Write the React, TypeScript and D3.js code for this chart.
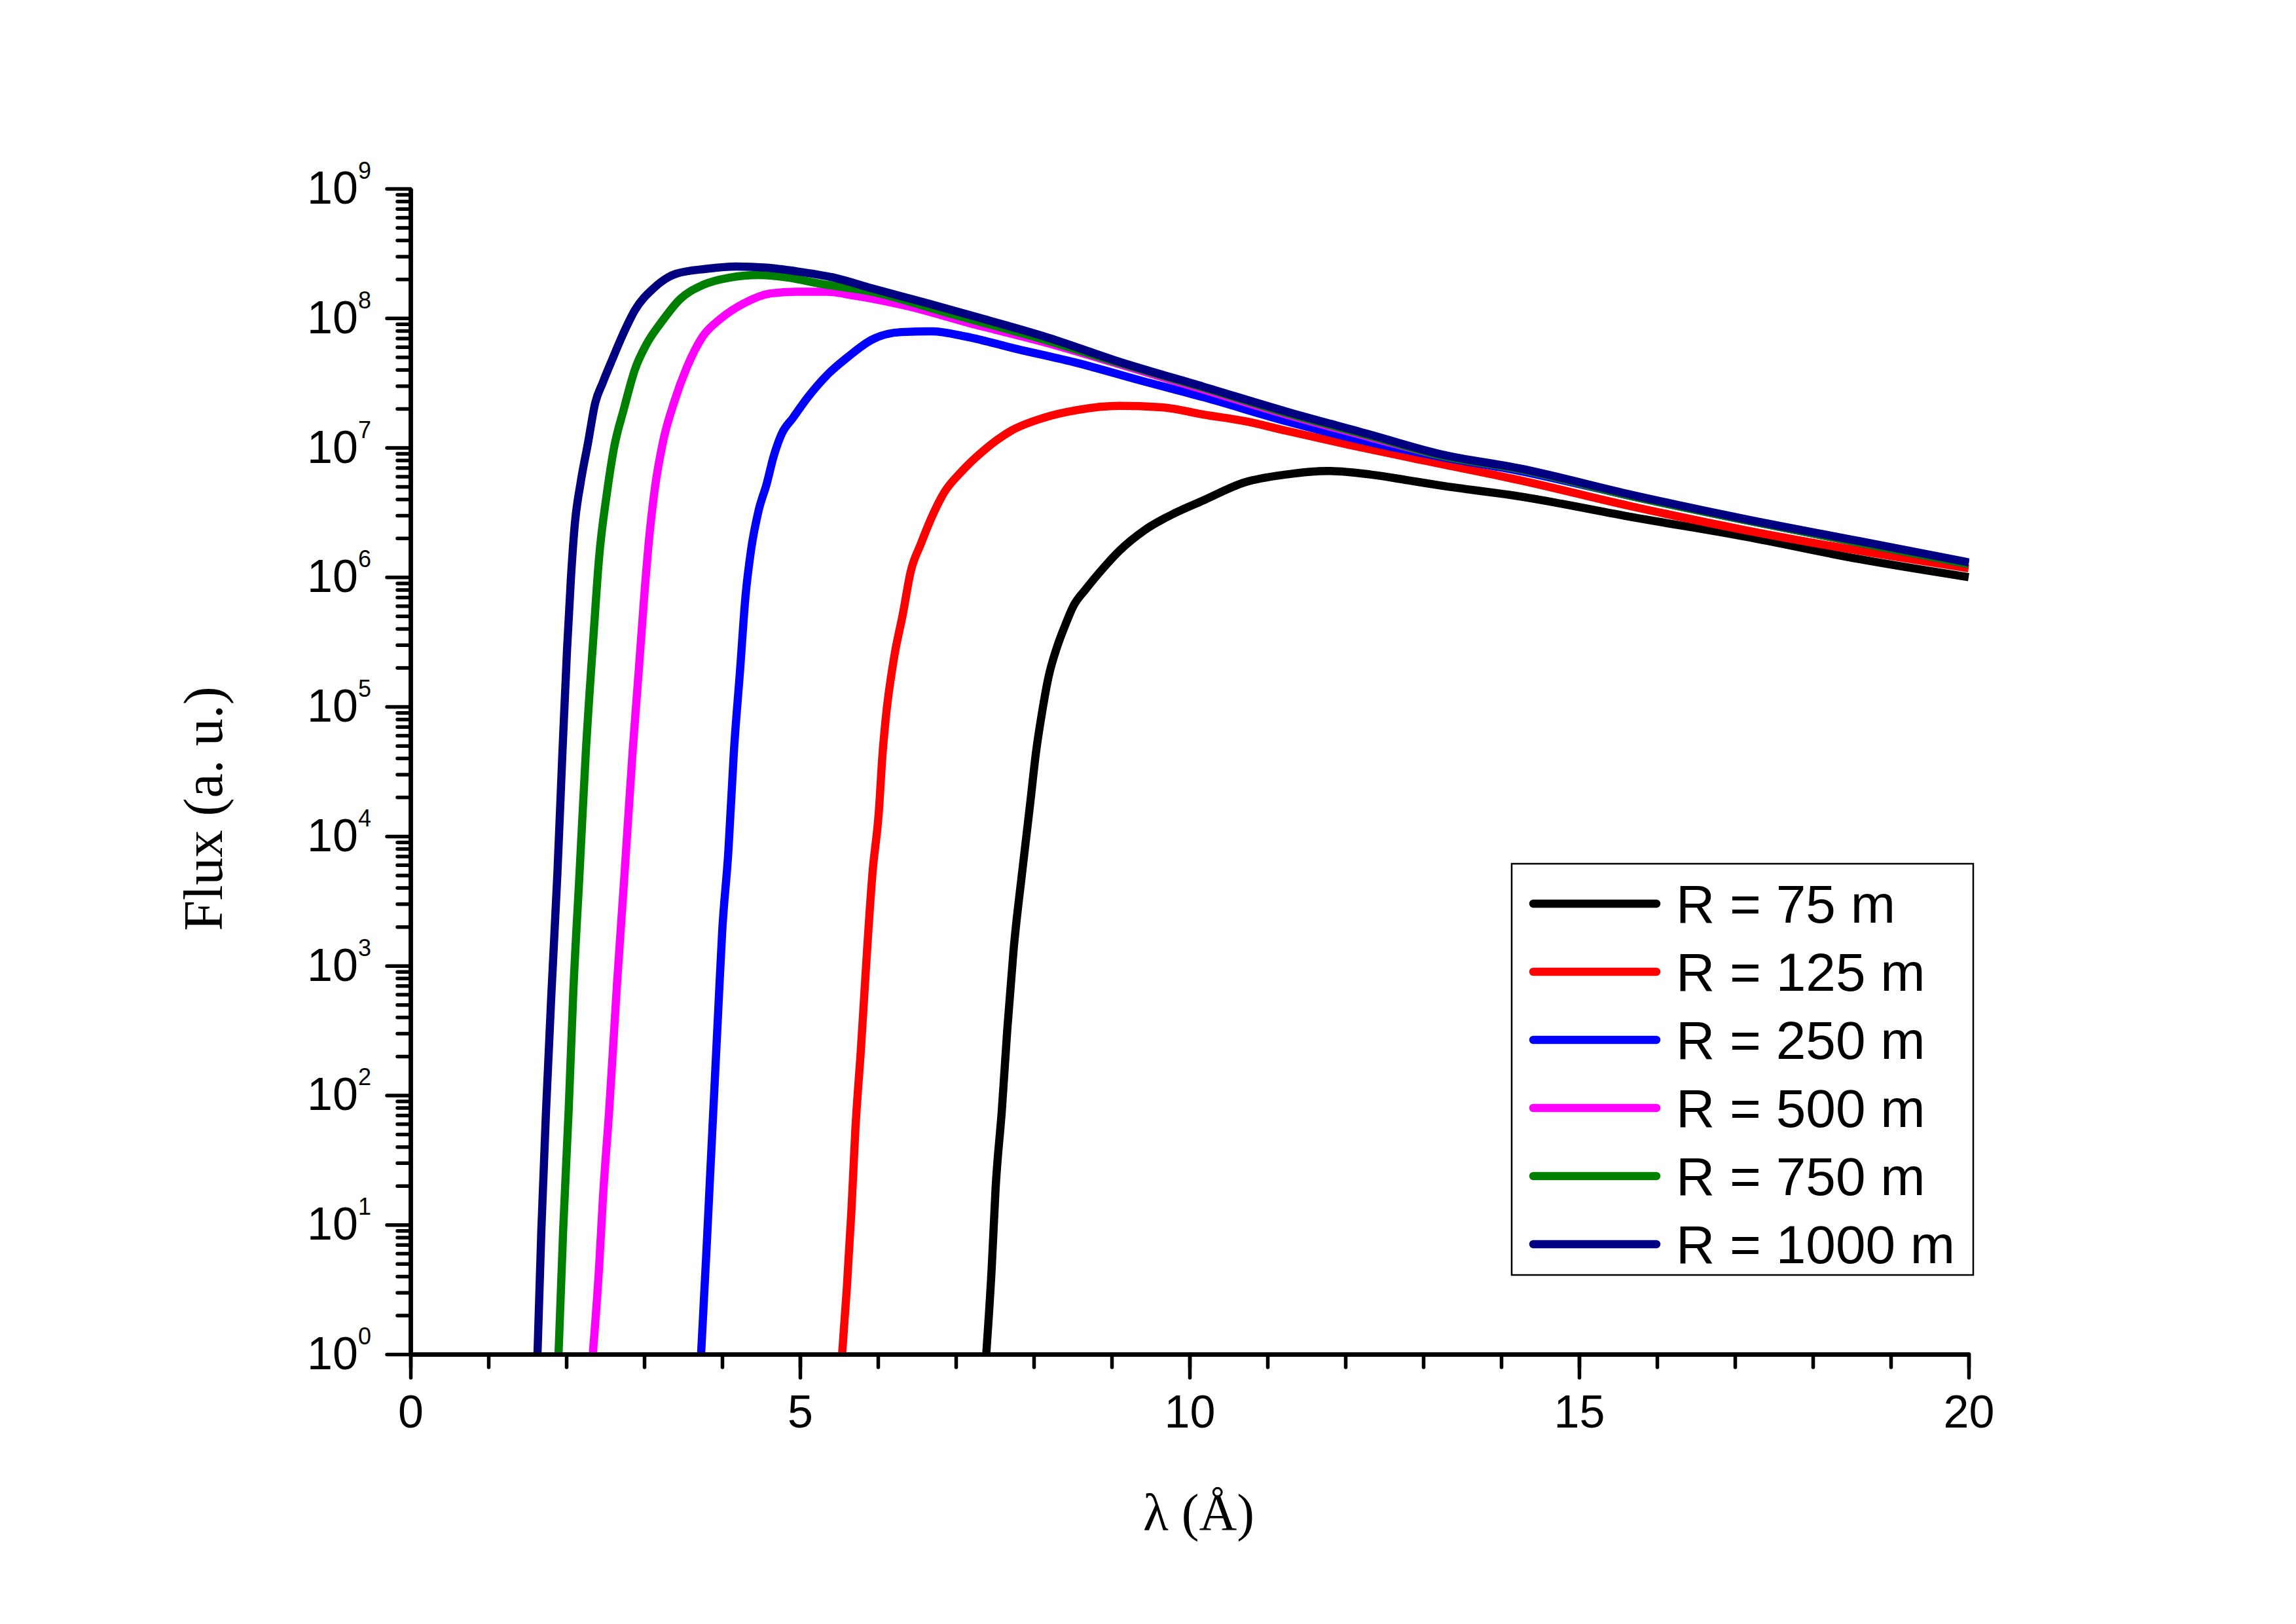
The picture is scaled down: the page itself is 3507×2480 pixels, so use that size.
import React, { useEffect, useRef } from 'react';
import * as d3 from 'd3';

const W = 3507;
const H = 2480;

// series: [lambda (Å), flux (a. u.)]
const r75: [number, number][] = [
  [7.39, 1], [7.46, 4.6], [7.51, 19], [7.59, 76], [7.66, 320], [7.74, 1.3e3], [7.85, 5.2e3],
  [7.95, 1.7e4], [8.03, 4.5e4], [8.11, 9.3e4], [8.19, 1.7e5], [8.3, 2.9e5], [8.4, 4.2e5],
  [8.51, 6.0e5], [8.67, 8.1e5], [8.89, 1.17e6], [9.1, 1.6e6], [9.42, 2.3e6], [9.8, 3.1e6],
  [10.17, 3.9e6], [10.71, 5.4e6], [11.24, 6.2e6], [11.78, 6.6e6], [12.32, 6.2e6], [12.8, 5.6e6],
  [13.22, 5.1e6], [14.24, 4.2e6], [15.69, 2.9e6], [17.14, 2.05e6], [18.59, 1.38e6], [20, 1.0e6],
];
const r125: [number, number][] = [
  [5.54, 1], [5.6, 3.2], [5.66, 13], [5.71, 54], [5.78, 220], [5.86, 1.3e3], [5.93, 5.2e3],
  [6.01, 1.5e4], [6.06, 4.4e4], [6.1, 8.1e4], [6.21, 2.45e5], [6.32, 5.2e5], [6.42, 1.1e6],
  [6.55, 1.8e6], [6.69, 2.9e6], [6.85, 4.5e6], [7.07, 6.5e6], [7.34, 9.3e6], [7.71, 1.35e7],
  [8.13, 1.7e7], [8.56, 1.95e7], [9.1, 2.1e7], [9.64, 2.05e7], [10.18, 1.8e7], [10.71, 1.6e7],
  [11.24, 1.35e7], [12.05, 1.05e7], [12.86, 8.3e6], [14.24, 5.6e6], [15.69, 3.5e6],
  [17.14, 2.3e6], [18.59, 1.6e6], [20, 1.17e6],
];
const r250: [number, number][] = [
  [3.73, 1], [3.8, 6.5], [3.85, 27], [3.9, 110], [3.95, 450], [4.0, 1.8e3], [4.08, 7.6e3],
  [4.15, 4.4e4], [4.23, 1.9e5], [4.3, 7.1e5], [4.37, 1.6e6], [4.47, 3.3e6], [4.57, 5.2e6],
  [4.66, 8.5e6], [4.76, 1.26e7], [4.91, 1.7e7], [5.1, 2.45e7], [5.34, 3.6e7], [5.63, 5.1e7],
  [5.92, 6.8e7], [6.3, 7.8e7], [6.69, 7.9e7], [7.13, 7.2e7], [7.77, 5.8e7], [8.56, 4.5e7],
  [9.37, 3.3e7], [10.18, 2.45e7], [11.24, 1.6e7], [12.32, 1.1e7], [13.22, 8.5e6],
  [14.24, 6.6e6], [15.69, 4.2e6], [17.14, 2.75e6], [18.59, 1.85e6], [20, 1.26e6],
];
const r500: [number, number][] = [
  [2.34, 1], [2.42, 4.6], [2.47, 16], [2.55, 76], [2.65, 710], [2.75, 5.4e3], [2.85, 4.4e4],
  [2.93, 1.9e5], [3.0, 7.1e5], [3.07, 2.2e6], [3.14, 5.0e6], [3.24, 1.1e7], [3.39, 2.3e7],
  [3.55, 4.2e7], [3.75, 7.2e7], [3.99, 1.0e8], [4.28, 1.3e8], [4.62, 1.55e8], [4.95, 1.6e8],
  [5.34, 1.6e8], [5.68, 1.5e8], [6.4, 1.23e8], [7.13, 9.3e7], [8.14, 6.5e7], [9.1, 4.4e7],
  [10.18, 2.8e7], [11.24, 1.8e7], [12.32, 1.2e7], [13.22, 8.7e6], [14.24, 6.8e6],
  [15.69, 4.2e6], [17.14, 2.75e6], [18.59, 1.85e6], [20, 1.29e6],
];
const r750: [number, number][] = [
  [1.9, 1], [1.96, 9.2], [2.03, 76], [2.09, 630], [2.17, 5.2e3], [2.25, 4.4e4], [2.35, 3.6e5],
  [2.42, 1.4e6], [2.52, 4.4e6], [2.61, 9.8e6], [2.74, 2.0e7], [2.88, 4.0e7], [3.03, 6.3e7],
  [3.22, 9.3e7], [3.46, 1.4e8], [3.75, 1.8e8], [4.09, 2.05e8], [4.47, 2.15e8], [4.86, 2.05e8],
  [5.24, 1.85e8], [5.92, 1.6e8], [6.88, 1.1e8], [8.14, 6.8e7], [9.1, 4.5e7], [10.18, 2.9e7],
  [11.24, 1.85e7], [12.32, 1.23e7], [13.22, 8.7e6], [14.24, 6.8e6], [15.69, 4.2e6],
  [17.14, 2.75e6], [18.59, 1.85e6], [20, 1.26e6],
];
const r1000: [number, number][] = [
  [1.63, 1], [1.68, 9.2], [1.74, 76], [1.81, 630], [1.886, 5.2e3], [1.95, 4.4e4], [2.01, 2.8e5],
  [2.06, 1.0e6], [2.11, 2.6e6], [2.18, 5.2e6], [2.28, 1.1e7], [2.37, 2.2e7], [2.47, 3.2e7],
  [2.59, 4.8e7], [2.74, 7.8e7], [2.88, 1.15e8], [3.12, 1.7e8], [3.41, 2.2e8], [3.8, 2.4e8],
  [4.18, 2.5e8], [4.57, 2.45e8], [4.95, 2.3e8], [5.44, 2.05e8], [5.92, 1.7e8], [6.64, 1.3e8],
  [7.37, 9.8e7], [8.14, 7.2e7], [9.1, 4.6e7], [10.18, 2.95e7], [11.24, 1.9e7], [12.32, 1.26e7],
  [13.22, 8.9e6], [14.24, 6.9e6], [15.69, 4.3e6], [17.14, 2.8e6], [18.59, 1.9e6], [20, 1.3e6],
];

const series = [r75, r125, r250, r500, r750, r1000];
const labels = ['R = 75 m', 'R = 125 m', 'R = 250 m', 'R = 500 m', 'R = 750 m', 'R = 1000 m'];
const colors = ['#000000', '#ff0000', '#0000ff', '#ff00ff', '#008000', '#000080'];

const xMajor = [0, 5, 10, 15, 20];
const xMinor = d3.range(0, 21, 1);
const yExponents = d3.range(0, 10);

const SANS = '"Liberation Sans", Arial, sans-serif';
const SERIF = '"Liberation Serif", "Times New Roman", serif';

const App: React.FC = () => {
  const svgRef = useRef<SVGSVGElement>(null);

  useEffect(() => {
    if (!svgRef.current) return;
    const svg = d3.select(svgRef.current);
    svg.selectAll('*').remove();

    const x = d3.scaleLinear().domain([0, 20]).range([627, 3007]);
    const y = d3.scaleLog().domain([1, 1e9]).range([2068, 288]);

    // curves
    const line = d3.line<[number, number]>()
      .x(d => x(d[0]))
      .y(d => y(d[1]))
      .curve(d3.curveMonotoneX);

    series.forEach((s, i) => {
      svg.append('path')
        .attr('d', line(s))
        .attr('fill', 'none')
        .attr('stroke', colors[i])
        .attr('stroke-width', 12.5)
        .attr('stroke-linejoin', 'round');
    });

    // y axis
    const yMinor: number[] = [];
    yExponents.slice(0, -1).forEach(e => {
      for (let k = 2; k <= 9; k++) yMinor.push(k * Math.pow(10, e));
    });
    const yMajor = yExponents.map(e => Math.pow(10, e));

    const gyMinor = svg.append('g').attr('transform', `translate(${x(0)},0)`)
      .call(d3.axisLeft(y).tickValues(yMinor).tickSize(20).tickSizeOuter(0).tickFormat(() => ''));
    const gyMajor = svg.append('g').attr('transform', `translate(${x(0)},0)`)
      .call(d3.axisLeft(y).tickValues(yMajor).tickSize(36).tickSizeOuter(0).tickFormat(() => ''));

    // x axis
    const gxMinor = svg.append('g').attr('transform', `translate(0,${y(1)})`)
      .call(d3.axisBottom(x).tickValues(xMinor).tickSize(20).tickSizeOuter(0).tickFormat(() => ''));
    const gxMajor = svg.append('g').attr('transform', `translate(0,${y(1)})`)
      .call(d3.axisBottom(x).tickValues(xMajor).tickSize(36).tickSizeOuter(0).tickPadding(26)
        .tickFormat(d => String(d)));

    [gyMinor, gyMajor, gxMinor, gxMajor].forEach(g => {
      g.select('.domain').attr('stroke', '#000').attr('stroke-width', 6.5);
      g.selectAll('.tick line').attr('stroke', '#000').attr('stroke-width', 5.5)
        .attr('stroke-linecap', 'round');
    });
    gxMajor.selectAll('.tick text')
      .attr('fill', '#000')
      .style('font-family', SANS)
      .style('font-size', '70px');

    // y tick labels with superscript exponent
    const yl = svg.append('g');
    yExponents.forEach(e => {
      const t = yl.append('text')
        .attr('x', 567)
        .attr('y', y(Math.pow(10, e)) + 23)
        .attr('text-anchor', 'end')
        .style('font-family', SANS)
        .style('font-size', '70px')
        .attr('fill', '#000');
      t.append('tspan').text('10');
      t.append('tspan').attr('dy', -38).style('font-size', '36px').text(String(e));
    });

    // axis titles
    svg.append('text')
      .attr('transform', 'translate(339,1235) rotate(-90)')
      .attr('text-anchor', 'middle')
      .style('font-family', SERIF)
      .style('font-size', '84px')
      .attr('fill', '#000')
      .text('Flux (a. u.)');

    svg.append('text')
      .attr('x', 1831)
      .attr('y', 2337)
      .attr('text-anchor', 'middle')
      .style('font-family', SERIF)
      .style('font-size', '80px')
      .attr('fill', '#000')
      .text('λ (Å)');

    // legend
    const lg = svg.append('g');
    lg.append('rect')
      .attr('x', 2309).attr('y', 1319)
      .attr('width', 705).attr('height', 628)
      .attr('fill', '#fff').attr('stroke', '#000').attr('stroke-width', 2.5);
    labels.forEach((lab, i) => {
      const cy = 1380 + i * 104;
      lg.append('line')
        .attr('x1', 2342).attr('x2', 2530)
        .attr('y1', cy).attr('y2', cy)
        .attr('stroke', colors[i]).attr('stroke-width', 12.5).attr('stroke-linecap', 'round');
      lg.append('text')
        .attr('x', 2560).attr('y', cy + 29)
        .style('font-family', SANS)
        .style('font-size', '82px')
        .attr('fill', '#000')
        .text(lab);
    });
  }, []);

  return (
    <div style={{ position: 'absolute', left: 0, top: 0, width: W, height: H, background: '#fff' }}>
      <svg ref={svgRef} width={W} height={H} style={{ display: 'block' }} />
    </div>
  );
};

export default App;
